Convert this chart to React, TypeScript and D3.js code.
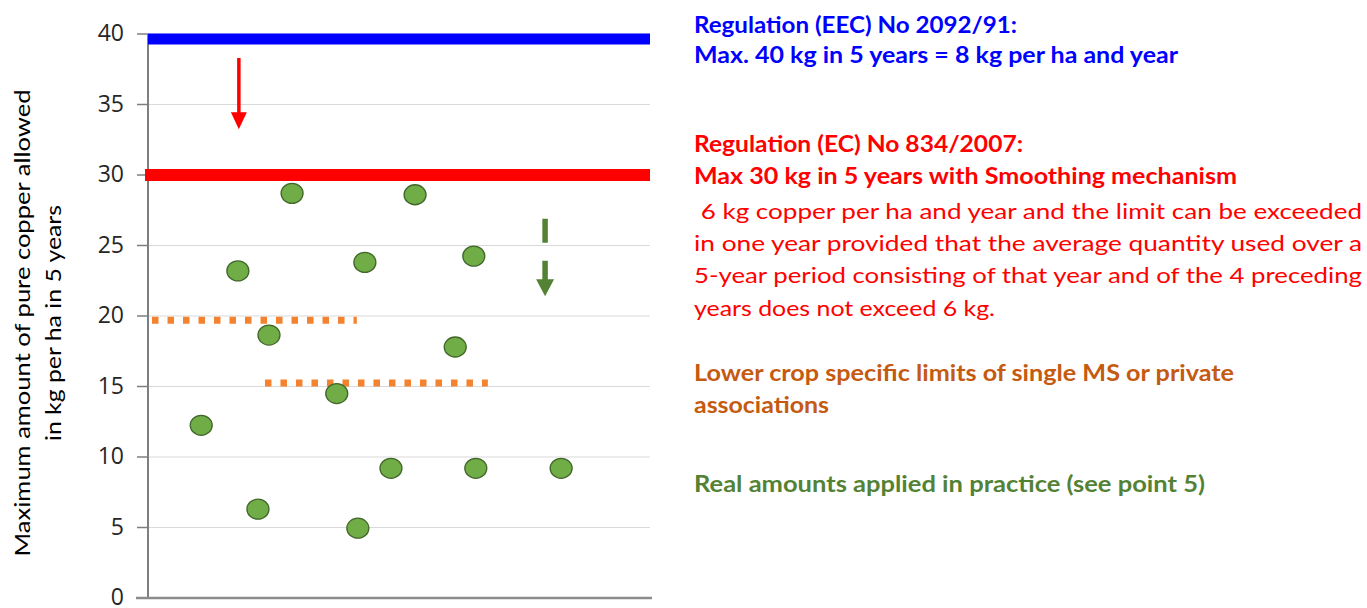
import React from "react";
import * as d3 from "d3";

const yTicks = [0, 5, 10, 15, 20, 25, 30, 35, 40];
// real amounts applied (x position in 0..100 units, y in kg/ha in 5 years)
const pointX = [10.6, 17.9, 21.9, 24.1, 28.7, 37.6, 41.8, 43.2, 48.4, 53.2, 61.2, 64.9, 65.3, 82.3];
const pointY = [12.25, 23.2, 6.3, 18.65, 28.7, 14.5, 4.95, 23.8, 9.2, 28.6, 17.8, 24.25, 9.2, 9.2];
const eecLimit = 39.65;
const ecLimit = 30;
const cropLimits = [
  { x0: 0.8, x1: 41.6, v: 19.7 },
  { x0: 23.3, x1: 67.7, v: 15.25 },
];
const redArrow = { x: 18.1, y0: 38.3, y1: 33.25 };
const greenArrow = { x: 79.1, y0: 26.9, y1: 21.4 };

const yTitle = ["Maximum amount of pure copper allowed", "in kg per ha in 5 years"];

const notes = [
  { text: "Regulation (EEC) No 2092/91:", y: 33, color: "#0000FF", bold: true, w: 323 },
  { text: "Max. 40 kg in 5 years = 8 kg per ha and year", y: 63, color: "#0000FF", bold: true, w: 484 },
  { text: "Regulation (EC) No 834/2007:", y: 152, color: "#FF0000", bold: true, w: 329 },
  { text: "Max 30 kg in 5 years with Smoothing mechanism", y: 184, color: "#FF0000", bold: true, w: 543 },
  { text: "\u00a06 kg copper per ha and year and the limit can be exceeded", y: 219, color: "#FF0000", bold: false, w: 668 },
  { text: "in one year provided that the average quantity used over a", y: 251, color: "#FF0000", bold: false, w: 668 },
  { text: "5-year period consisting of that year and of the 4 preceding", y: 283, color: "#FF0000", bold: false, w: 668 },
  { text: "years does not exceed 6 kg.", y: 316, color: "#FF0000", bold: false, w: 301 },
  { text: "Lower crop specific limits of single MS or private", y: 381, color: "#C55A11", bold: true, w: 540 },
  { text: "associations", y: 413, color: "#C55A11", bold: true, w: 135 },
  { text: "Real amounts applied in practice (see point 5)", y: 492, color: "#548235", bold: true, w: 511 },
];

export default function App() {
  const W = 1367, H = 608;
  const x = d3.scaleLinear().domain([0, 100]).range([148, 650]);
  const y = d3.scaleLinear().domain([0, 40]).range([598, 34]);
  const font = "Lato, 'Open Sans', sans-serif";
  const tickFont = "'Open Sans', sans-serif";

  return (
    <svg width={W} height={H} style={{ position: "absolute", left: 0, top: 0, background: "#fff" }}>
      {/* gridlines */}
      {yTicks.filter((t) => t > 0).map((t) => (
        <line key={"g" + t} x1={x(0)} x2={x(100)} y1={y(t)} y2={y(t)} stroke="#d9d9d9" strokeWidth={1.2} />
      ))}
      {/* tick marks */}
      {yTicks.map((t) => (
        <line key={"t" + t} x1={137} x2={x(0)} y1={y(t)} y2={y(t)} stroke="#7f7f7f" strokeWidth={1.5} />
      ))}
      {/* axes */}
      <line x1={x(0)} x2={x(0)} y1={y(40)} y2={y(0)} stroke="#7f7f7f" strokeWidth={2} />
      <line x1={136} x2={652} y1={y(0)} y2={y(0)} stroke="#8c8c8c" strokeWidth={2.5} />
      {/* tick labels */}
      {yTicks.map((t) => (
        <text key={"l" + t} x={124} y={y(t) - 1} dy="0.36em" textAnchor="end" fontFamily={tickFont} fontSize={23} fill="#262626">
          {t}
        </text>
      ))}
      {/* y title */}
      {yTitle.map((s, i) => (
        <text key={"yt" + i} transform={`translate(${i === 0 ? 30 : 61},323) rotate(-90)`} textAnchor="middle"
          fontFamily={font} fontSize={22} fill="#000" textLength={i === 0 ? 467 : 236} lengthAdjust="spacingAndGlyphs">
          {s}
        </text>
      ))}
      {/* EEC limit */}
      <line x1={x(0)} x2={x(100)} y1={y(eecLimit)} y2={y(eecLimit)} stroke="#0000FF" strokeWidth={11} />
      {/* EC limit */}
      <line x1={x(0) - 3} x2={x(100)} y1={y(ecLimit)} y2={y(ecLimit)} stroke="#FF0000" strokeWidth={12} />
      {/* crop specific limits */}
      {cropLimits.map((c, i) => (
        <line key={"c" + i} x1={x(c.x0)} x2={x(c.x1)} y1={y(c.v)} y2={y(c.v)} stroke="#F4822F"
          strokeWidth={7} strokeDasharray="6.5 9" />
      ))}
      {/* red arrow */}
      <line x1={x(redArrow.x)} x2={x(redArrow.x)} y1={y(redArrow.y0)} y2={y(redArrow.y1) - 14} stroke="#FF0000" strokeWidth={3.5} />
      <path d={`M${x(redArrow.x) - 8},${y(redArrow.y1) - 17} L${x(redArrow.x) + 8},${y(redArrow.y1) - 17} L${x(redArrow.x)},${y(redArrow.y1)} Z`} fill="#FF0000" />
      {/* green dashed arrow */}
      <line x1={x(greenArrow.x)} x2={x(greenArrow.x)} y1={y(greenArrow.y0)} y2={y(greenArrow.y1) - 14} stroke="#548235" strokeWidth={5.5}
        strokeDasharray="24 18" />
      <path d={`M${x(greenArrow.x) - 9},${y(greenArrow.y1) - 17} L${x(greenArrow.x) + 9},${y(greenArrow.y1) - 17} L${x(greenArrow.x)},${y(greenArrow.y1)} Z`} fill="#548235" />
      {/* points */}
      {pointX.map((px, i) => (
        <ellipse key={"p" + i} cx={x(px)} cy={y(pointY[i])} rx={11} ry={10} fill="#70AD47" stroke="#41672a" strokeWidth={1.3} />
      ))}
      {/* notes */}
      {notes.map((n, i) => (
        <text key={"n" + i} x={694} y={n.y} fontFamily={font} fontSize={22} fontWeight={n.bold ? 700 : 400} fill={n.color}
          textLength={n.w} lengthAdjust="spacingAndGlyphs">
          {n.text}
        </text>
      ))}
    </svg>
  );
}
